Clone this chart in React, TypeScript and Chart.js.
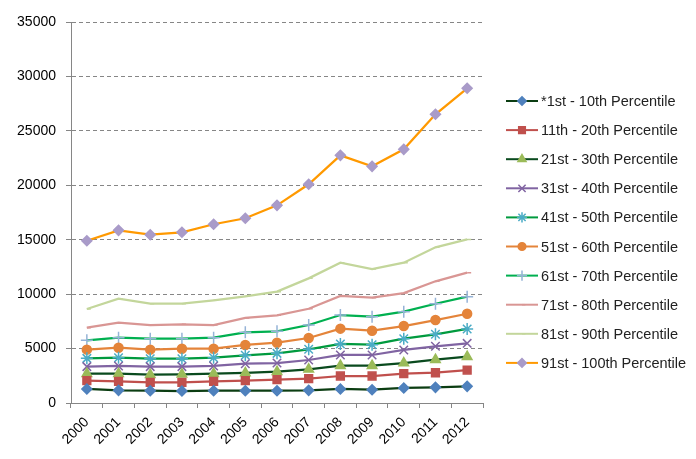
import { useEffect, useRef } from 'react';
import { Chart, registerables } from 'chart.js';
import { drawPoint } from 'chart.js/helpers';

Chart.register(...registerables);

// Data
const years = ['2000', '2001', '2002', '2003', '2004', '2005', '2006', '2007', '2008', '2009', '2010', '2011', '2012'];

const p1to10 = [1290, 1160, 1130, 1100, 1130, 1130, 1130, 1160, 1290, 1220, 1380, 1440, 1530];
const p11to20 = [2050, 1990, 1900, 1900, 1990, 2050, 2140, 2230, 2480, 2480, 2690, 2780, 3030];
const p21to30 = [2690, 2690, 2600, 2630, 2690, 2760, 2880, 3090, 3430, 3430, 3670, 3980, 4250];
const p31to40 = [3340, 3400, 3340, 3340, 3400, 3610, 3670, 3950, 4410, 4410, 4870, 5210, 5480];
const p41to50 = [4100, 4160, 4070, 4070, 4160, 4380, 4560, 4930, 5420, 5360, 5910, 6310, 6800];
const p51to60 = [4900, 5080, 4900, 4990, 4990, 5330, 5540, 5970, 6830, 6640, 7070, 7620, 8200];
const p61to70 = [5760, 6000, 5910, 5910, 6000, 6490, 6580, 7165, 8080, 7930, 8390, 9120, 9770];
const p71to80 = [6920, 7380, 7165, 7230, 7165, 7810, 8050, 8660, 9830, 9680, 10100, 11180, 11970];
const p81to90 = [8635, 9580, 9120, 9120, 9430, 9800, 10230, 11450, 12890, 12310, 12890, 14300, 15030];
const p91to100 = [14900, 15860, 15460, 15680, 16420, 16970, 18160, 20090, 22750, 21740, 23300, 26520, 28910];

const yTicks = [0, 5000, 10000, 15000, 20000, 25000, 30000, 35000];

const FONT = '"Liberation Sans", Arial, sans-serif';

interface SeriesStyle {
    label: string;
    data: number[];
    line: string;
    marker: string;
    style: string;
    radius: number;
}

const series: SeriesStyle[] = [
    { label: '*1st - 10th Percentile', data: p1to10, line: '#0b3d12', marker: '#4f81bd', style: 'rectRot', radius: 5 },
    { label: '11th - 20th Percentile', data: p11to20, line: '#c0504d', marker: '#c0504d', style: 'rect', radius: 5.5 },
    { label: '21st - 30th Percentile', data: p21to30, line: '#0a4a1e', marker: '#9bbb59', style: 'triangle', radius: 5.5 },
    { label: '31st - 40th Percentile', data: p31to40, line: '#8064a2', marker: '#8064a2', style: 'crossRot', radius: 6 },
    { label: '41st - 50th Percentile', data: p41to50, line: '#009a3e', marker: '#4bacc6', style: 'star', radius: 6 },
    { label: '51st - 60th Percentile', data: p51to60, line: '#e4843a', marker: '#e4843a', style: 'circle', radius: 4.5 },
    { label: '61st - 70th Percentile', data: p61to70, line: '#00b050', marker: '#95b3d7', style: 'cross', radius: 6 },
    { label: '71st - 80th Percentile', data: p71to80, line: '#d99694', marker: '#d99694', style: 'dash', radius: 4 },
    { label: '81st - 90th Percentile', data: p81to90, line: '#c3d69b', marker: '#c3d69b', style: 'dash', radius: 4 },
    { label: '91st - 100th Percentile', data: p91to100, line: '#ff9900', marker: '#a99bc9', style: 'rectRot', radius: 5 },
];

// Excel-like legend: short line with the marker in its middle
const sideLegend = {
    id: 'sideLegend',
    afterDraw(chart: Chart) {
        const ctx = chart.ctx;
        const x0 = 506;
        const x1 = 538;
        const top = 101;
        const step = 29.1;
        ctx.save();
        series.forEach((s, i) => {
            const y = top + i * step;
            ctx.strokeStyle = s.line;
            ctx.lineWidth = 2;
            ctx.beginPath();
            ctx.moveTo(x0, y);
            ctx.lineTo(x1, y);
            ctx.stroke();
            ctx.fillStyle = s.marker;
            ctx.strokeStyle = s.marker;
            ctx.lineWidth = 1.5;
            drawPoint(ctx, { pointStyle: s.style as any, radius: s.radius * 0.85, rotation: 0, borderWidth: 1.5 }, (x0 + x1) / 2, y);
            ctx.fillStyle = '#222';
            ctx.font = '14.5px ' + FONT;
            ctx.textAlign = 'left';
            ctx.textBaseline = 'middle';
            ctx.fillText(s.label, 541, y + 1);
        });
        ctx.restore();
    },
};

export default function App() {
    const canvasRef = useRef<HTMLCanvasElement>(null);
    const chartRef = useRef<Chart | null>(null);

    useEffect(() => {
        if (!canvasRef.current) return;
        if (chartRef.current) chartRef.current.destroy();

        chartRef.current = new Chart(canvasRef.current, {
            type: 'line',
            data: {
                labels: years,
                datasets: series.map(s => ({
                    label: s.label,
                    data: s.data,
                    borderColor: s.line,
                    borderWidth: 2.25,
                    backgroundColor: s.marker,
                    pointBackgroundColor: s.marker,
                    pointBorderColor: s.marker,
                    pointBorderWidth: 1.5,
                    pointStyle: s.style as any,
                    pointRadius: s.radius,
                    tension: 0,
                    fill: false,
                })),
            },
            options: {
                animation: false,
                responsive: true,
                maintainAspectRatio: false,
                layout: { padding: { top: 22, right: 213, left: 0, bottom: 0 } },
                plugins: {
                    legend: { display: false },
                    tooltip: { enabled: false },
                },
                scales: {
                    x: {
                        offset: true,
                        grid: {
                            offset: true,
                            drawOnChartArea: false,
                            drawTicks: true,
                            tickLength: 5,
                            color: '#868686',
                        },
                        border: { color: '#868686', width: 1 },
                        ticks: {
                            color: '#000',
                            font: { family: FONT, size: 14 },
                            minRotation: 45,
                            maxRotation: 45,
                            padding: 6,
                        },
                        afterFit(scale: any) { scale.height = 56; },
                    },
                    y: {
                        min: 0,
                        max: 35000,
                        afterBuildTicks(scale: any) {
                            scale.ticks = yTicks.map(v => ({ value: v }));
                        },
                        grid: {
                            color: '#868686',
                            lineWidth: 1,
                            tickLength: 5,
                            tickBorderDash: [],
                            tickColor: '#868686',
                        },
                        border: { color: '#868686', width: 1, dash: [4, 3] },
                        ticks: {
                            color: '#000',
                            font: { family: FONT, size: 14 },
                            padding: 10,
                            callback: (v: any) => String(v),
                        },
                        afterFit(scale: any) { scale.width = 71; },
                    },
                },
            },
            plugins: [sideLegend],
        });

        return () => {
            if (chartRef.current) {
                chartRef.current.destroy();
                chartRef.current = null;
            }
        };
    }, []);

    return (
        <div style={{ position: 'absolute', left: 0, top: 0, width: 696, height: 459, background: '#fff' }}>
            <canvas ref={canvasRef}></canvas>
        </div>
    );
}
